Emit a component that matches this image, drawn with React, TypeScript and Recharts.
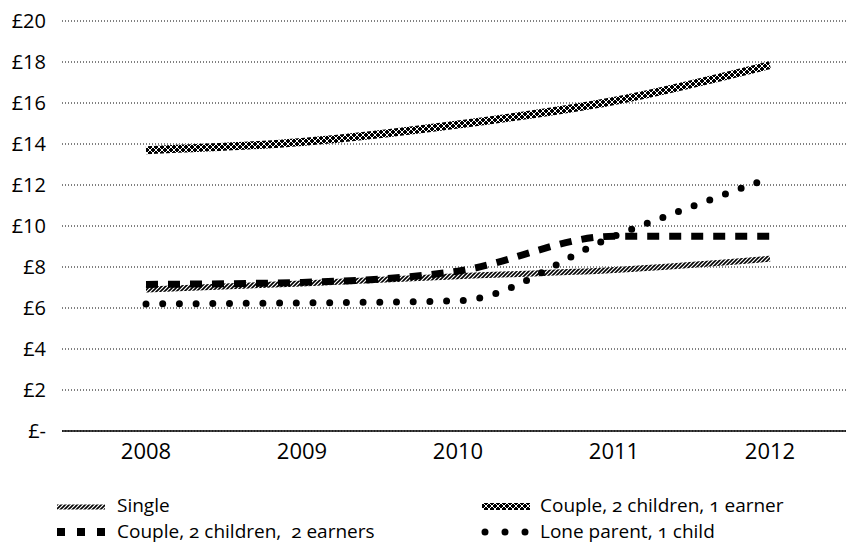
import { LineChart, Line, XAxis, YAxis, CartesianGrid } from "recharts";

const years = ["2008", "2009", "2010", "2011", "2012"];
const single = [6.9, 7.2, 7.55, 7.85, 8.4];
const coupleOneEarner = [13.7, 14.1, 14.95, 16.1, 17.85];
const coupleTwoEarners = [7.15, 7.25, 7.8, 9.5, 9.5];
const loneParent = [6.2, 6.25, 6.35, 9.5, 12.35];
const yTicks = [0, 2, 4, 6, 8, 10, 12, 14, 16, 18, 20];

const data = years.map((year, i) => ({
  year,
  single: single[i],
  coupleOne: coupleOneEarner[i],
  coupleTwo: coupleTwoEarners[i],
  lone: loneParent[i],
}));

const font = "'Open Sans', sans-serif";

function Patterns() {
  return (
    <defs>
      <pattern id="hatch" patternUnits="userSpaceOnUse" width="4" height="4">
        <rect width="4" height="4" fill="#fff" />
        <path d="M0,4 L4,0 M-1,1 L1,-1 M3,5 L5,3" stroke="#000" strokeWidth="1.6" />
      </pattern>
      <pattern id="cross" patternUnits="userSpaceOnUse" width="6" height="6">
        <rect width="6" height="6" fill="#000" />
        <path d="M0,0 L6,6 M6,0 L0,6" stroke="#fff" strokeWidth="1" />
      </pattern>
    </defs>
  );
}

const formatPound = (v: number) => (v === 0 ? "£-" : `£${v}`);

export default function App() {
  const legendText = {
    fontFamily: font,
    fontSize: 19,
    fill: "#000",
    fontVariantNumeric: "oldstyle-nums",
  } as const;

  return (
    <div style={{ position: "absolute", left: 0, top: 0, width: 846, height: 544, background: "#fff" }}>
      <LineChart
        width={846}
        height={470}
        data={data}
        margin={{ top: 21, right: 0, bottom: 0, left: 0 }}
      >
        <Patterns />
        <CartesianGrid vertical={false} stroke="#000" strokeDasharray="1 2" />
        <XAxis
          dataKey="year"
          height={39}
          padding={{ left: 84, right: 76 }}
          axisLine={{ stroke: "#000", strokeWidth: 1.5 }}
          tickLine={false}
          tickSize={0}
          tickMargin={12}
          tick={{ fill: "#000", fontSize: 22, fontFamily: font }}
        />
        <YAxis
          width={62}
          domain={[0, 20]}
          ticks={yTicks}
          tickFormatter={formatPound}
          axisLine={false}
          tickLine={false}
          tickSize={0}
          tickMargin={16}
          tick={{ fill: "#000", fontSize: 20, fontFamily: font }}
        />
        <Line
          type="monotone"
          dataKey="single"
          stroke="url(#hatch)"
          strokeWidth={6}
          dot={false}
          activeDot={false}
          isAnimationActive={false}
        />
        <Line
          type="monotone"
          dataKey="coupleOne"
          stroke="url(#cross)"
          strokeWidth={8}
          dot={false}
          activeDot={false}
          isAnimationActive={false}
        />
        <Line
          type="monotone"
          dataKey="coupleTwo"
          stroke="#000"
          strokeWidth={7}
          strokeDasharray="12 10"
          dot={false}
          activeDot={false}
          isAnimationActive={false}
        />
        <Line
          type="monotone"
          dataKey="lone"
          stroke="#000"
          strokeWidth={7}
          strokeLinecap="round"
          strokeDasharray="0 16.7"
          dot={false}
          activeDot={false}
          isAnimationActive={false}
        />
      </LineChart>

      <svg
        width={846}
        height={74}
        style={{ position: "absolute", left: 0, top: 470 }}
      >
        {/* row 1 */}
        <line x1={57} y1={37} x2={105} y2={37} stroke="url(#hatch)" strokeWidth={5} />
        <text x={117} y={42} style={legendText}>Single</text>
        <line x1={482} y1={36.5} x2={530} y2={36.5} stroke="url(#cross)" strokeWidth={7} />
        <text x={540} y={42} style={legendText}>Couple, 2 children, 1 earner</text>
        {/* row 2 */}
        <line x1={57} y1={62} x2={105} y2={62} stroke="#000" strokeWidth={8} strokeDasharray="8 12" />
        <text x={117} y={68} style={legendText} xmlSpace="preserve">Couple, 2 children,  2 earners</text>
        <line
          x1={485}
          y1={62}
          x2={525.5}
          y2={62}
          stroke="#000"
          strokeWidth={7}
          strokeLinecap="round"
          strokeDasharray="0 20"
        />
        <text x={540} y={68} style={legendText}>Lone parent, 1 child</text>
      </svg>
    </div>
  );
}
